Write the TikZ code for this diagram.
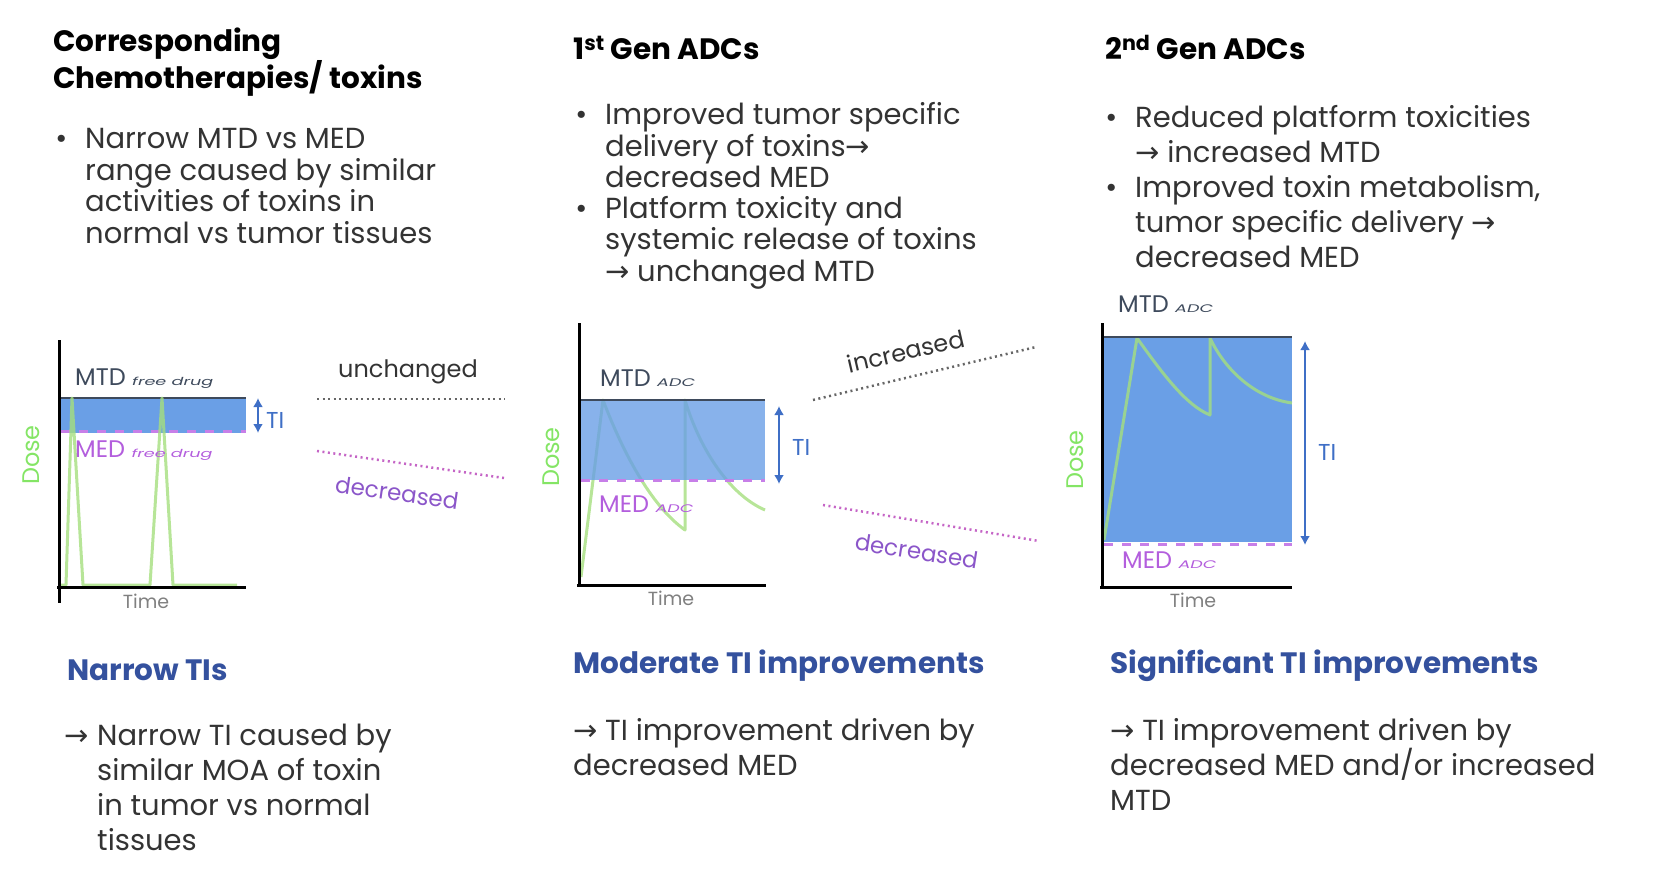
\documentclass[tikz,border=0pt]{standalone}
\usepackage{fontspec}
\setmainfont{Poppins}
\newfontfamily\symfont{DejaVu Sans}
\usetikzlibrary{arrows.meta}

\definecolor{bandblue}{HTML}{6A9FE6}
\definecolor{mtdgray}{HTML}{3E4A5C}
\definecolor{medviolet}{HTML}{C77FE8}
\definecolor{medtext}{HTML}{B35EDD}
\definecolor{curvegreen}{HTML}{A5DF7E}
\definecolor{tiblue}{HTML}{3F6FC6}
\definecolor{headblue}{HTML}{34519E}
\definecolor{txtgray}{HTML}{333333}
\definecolor{decpurple}{HTML}{8B56C9}

\newcommand{\ra}{{\symfont →}}
\newcommand{\sub}[1]{\scalebox{1.6}[1]{\textit{\fontsize{11}{11}\selectfont #1}}}

\begin{document}
\begin{tikzpicture}[x=1pt,y=1pt,
  every node/.style={inner sep=0pt},
  body/.style={text=txtgray, align=left, anchor=base west, font=\fontsize{29}{31.5}\selectfont},
  wide/.style={body, font=\fontsize{29}{35}\selectfont},
  title/.style={body, text=black, font=\fontsize{29.5}{30}\selectfont\bfseries},
  result/.style={body, text=headblue, font=\fontsize{29.5}{31}\selectfont\bfseries},
  axisline/.style={black, line width=3pt},
  band/.style={fill=bandblue},
  mtdline/.style={mtdgray, line width=2.5pt},
  medline/.style={medviolet, line width=3pt, dash pattern=on 9pt off 9pt},
  dosecurve/.style={curvegreen, line width=3pt, line join=round, opacity=0.8},
  tiarrow/.style={tiblue, line width=2.5pt, {Latex[length=9pt,width=10pt]}-{Latex[length=9pt,width=10pt]}},
  tilbl/.style={text=tiblue, font=\fontsize{23}{23}\selectfont, anchor=west},
  mtdlbl/.style={text=mtdgray, font=\fontsize{24}{24}\selectfont, anchor=base west},
  medlbl/.style={text=medtext, font=\fontsize{24}{24}\selectfont, anchor=base west},
  doselbl/.style={text=curvegreen!80!green, font=\fontsize{24}{24}\selectfont, rotate=90},
  timelbl/.style={text=gray, font=\fontsize{19}{19}\selectfont},
  dotgray/.style={gray!80!black, line width=2.5pt, dash pattern=on 2pt off 3.5pt},
  dotpurple/.style={medviolet!80!purple, line width=2.5pt, dash pattern=on 2pt off 3.5pt},
  changelbl/.style={text=txtgray, font=\fontsize{24}{24}\selectfont},
  declbl/.style={text=decpurple, font=\fontsize{23}{23}\selectfont}
]
\useasboundingbox (0,0) rectangle (1658,-888);

% column headers and bullets (nodes sit on their last baseline)
\node[title] (head1) at (53,-89) {Corresponding\\Chemotherapies/ toxins};
\node[body] (note1) at (85,-243) {\llap{•\hspace{18pt}}Narrow MTD vs MED\\range caused by similar\\activities of toxins in\\normal vs tumor tissues};

\node[title] (head2) at (573,-60) {1\textsuperscript{st} Gen ADCs};
\node[body] (note2a) at (605,-188) {\llap{•\hspace{18pt}}Improved tumor specific\\delivery of toxins\ra\\decreased MED};
\node[body] (note2b) at (605,-281) {\llap{•\hspace{18pt}}Platform toxicity and\\systemic release of toxins\\\ra{} unchanged MTD};

\node[title] (head3) at (1105,-60) {2\textsuperscript{nd} Gen ADCs};
\node[wide] (note3a) at (1135,-163) {\llap{•\hspace{18pt}}Reduced platform toxicities\\\ra{} increased MTD};
\node[wide] (note3b) at (1135,-267) {\llap{•\hspace{18pt}}Improved toxin metabolism,\\tumor specific delivery \ra\\decreased MED};

% graph 1: free drug
\fill[band] (61,-398) rectangle (246,-433);
\draw[mtdline] (61,-398) -- (246,-398);
\draw[medline] (61,-431) -- (246,-431);
\draw[dosecurve] (61,-585) -- (66,-585) -- (72,-398) -- (83,-585) -- (150,-585) -- (162,-398) -- (173,-585) -- (237,-585);
\draw[axisline] (59,-340) -- (59,-603);
\draw[axisline] (57,-587) -- (246,-587);
\node[mtdlbl] (mtd1) at (75,-385) {MTD \sub{free drug}};
\node[medlbl] (med1) at (75,-457) {MED \sub{free drug}};
\coordinate (ti1top) at (258,-398);
\coordinate (ti1bot) at (258,-433);
\draw[tiarrow] (ti1top) -- (ti1bot);
\node[tilbl] (ti1) at (266,-420) {TI};
\node[doselbl] (dose1) at (31,-455) {Dose};
\node[timelbl] (time1) at (146,-601) {Time};

% graph 2: 1st gen
\draw[dosecurve] (581,-577) -- (603,-400) .. controls (622,-450) and (650,-505) .. (685,-530) -- (685,-400) .. controls (700,-450) and (730,-495) .. (765,-510);
\fill[band, fill opacity=0.8] (581,-400) rectangle (765,-480);
\draw[mtdline] (581,-400) -- (765,-400);
\draw[medline] (581,-480) -- (765,-480);
\draw[axisline] (579,-323) -- (579,-587);
\draw[axisline] (577,-585) -- (766,-585);
\node[mtdlbl] (mtd2) at (600,-386) {MTD \sub{ADC}};
\node[medlbl] (med2) at (599,-512) {MED \sub{ADC}};
\coordinate (ti2top) at (779,-406);
\coordinate (ti2bot) at (779,-484);
\draw[tiarrow] (ti2top) -- (ti2bot);
\node[tilbl] (ti2) at (792,-447) {TI};
\node[doselbl] (dose2) at (551,-457) {Dose};
\node[timelbl] (time2) at (671,-598) {Time};

% graph 3: 2nd gen
\fill[band] (1104,-337) rectangle (1292,-542);
\draw[dosecurve] (1104,-540) -- (1137,-338) .. controls (1160,-370) and (1185,-405) .. (1210,-415) -- (1210,-338) .. controls (1225,-370) and (1255,-398) .. (1292,-403);
\draw[mtdline] (1104,-337) -- (1292,-337);
\draw[medline] (1104,-544) -- (1292,-544);
\draw[axisline] (1102,-323) -- (1102,-589);
\draw[axisline] (1100,-587) -- (1292,-587);
\node[mtdlbl] (mtd3) at (1118,-312) {MTD \sub{ADC}};
\node[medlbl] (med3) at (1122,-568) {MED \sub{ADC}};
\coordinate (ti3top) at (1305,-341);
\coordinate (ti3bot) at (1305,-545);
\draw[tiarrow] (ti3top) -- (ti3bot);
\node[tilbl] (ti3) at (1318,-452) {TI};
\node[doselbl] (dose3) at (1075,-460) {Dose};
\node[timelbl] (time3) at (1193,-600) {Time};

% dotted shifts between graphs
\coordinate (mtd12a) at (317,-399);
\coordinate (mtd12b) at (505,-399);
\coordinate (med12a) at (317,-451);
\coordinate (med12b) at (504,-478);
\draw[dotgray] (mtd12a) -- (mtd12b);
\draw[dotpurple] (med12a) -- (med12b);
\node[changelbl] (unch) at (408,-372) {unchanged};
\node[declbl, rotate=-8] (dec1) at (397,-493) {decreased};

\coordinate (mtd23a) at (813,-400);
\coordinate (mtd23b) at (1036,-347);
\coordinate (med23a) at (823,-505);
\coordinate (med23b) at (1039,-541);
\draw[dotgray] (mtd23a) -- (mtd23b);
\draw[dotpurple] (med23a) -- (med23b);
\node[changelbl, rotate=13] (incr) at (906,-351) {increased};
\node[declbl, rotate=-9] (dec2) at (917,-551) {decreased};

% bottom conclusions
\node[result] (res1) at (67,-680) {Narrow TIs};
\node[wide] (why1) at (97,-850) {\llap{\ra\hspace{8pt}}Narrow TI caused by\\similar MOA of toxin\\in tumor vs normal\\tissues};

\node[result] (res2) at (573,-673) {Moderate TI improvements};
\node[wide] (why2) at (573,-775) {\ra{} TI improvement driven by\\decreased MED};

\node[result] (res3) at (1110,-673) {Significant TI improvements};
\node[wide] (why3) at (1110,-810) {\ra{} TI improvement driven by\\decreased MED and/or increased\\MTD};
\end{tikzpicture}
\end{document}
